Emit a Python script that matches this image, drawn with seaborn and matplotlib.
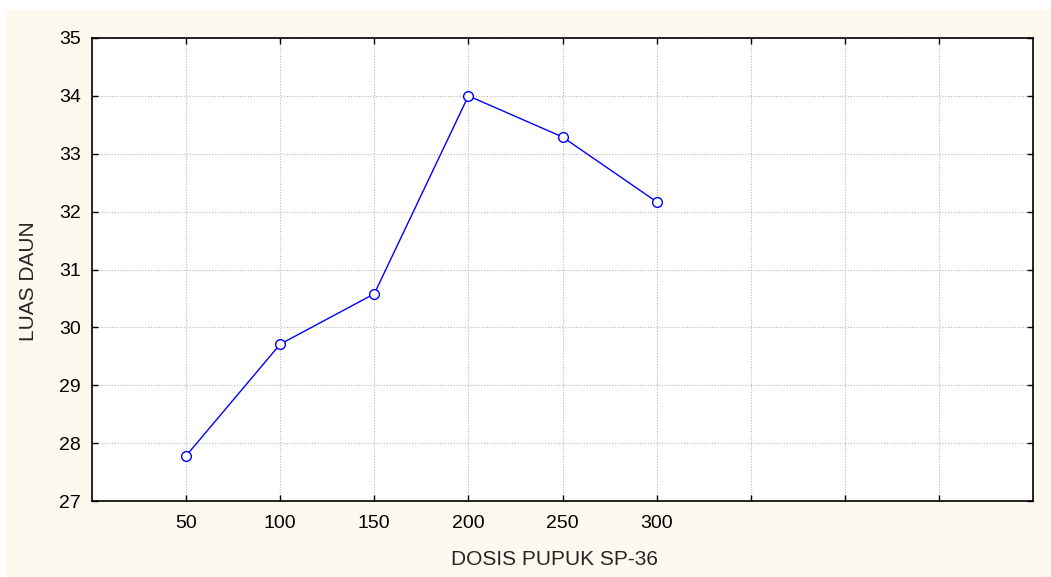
import matplotlib
matplotlib.use("Agg")
import matplotlib.pyplot as plt
import matplotlib.patches as patches
import pandas as pd
import seaborn as sns

# data
dosis = [50, 100, 150, 200, 250, 300]
luas_daun = [27.78, 29.71, 30.58, 34.0, 33.29, 32.17]

# extra empty slots on the x axis (gridlines only)
grid_x = [50, 100, 150, 200, 250, 300, 350, 400, 450]
tick_labels = ["50", "100", "150", "200", "250", "300", "", "", ""]
y_ticks = [27, 28, 29, 30, 31, 32, 33, 34, 35]

df = pd.DataFrame({"dosis": dosis, "luas": luas_daun})

sns.set_style("white")
plt.rcParams["font.family"] = ["Liberation Sans", "DejaVu Sans"]

cream = "#fef9ef"
fig = plt.figure(figsize=(10.51, 5.77), dpi=100, facecolor="white")
# cream panel behind the plot, leaving a thin white strip top/left
fig.patches.append(
    patches.Rectangle(
        (5 / 1051, 0), 1, 1 - 10 / 577, transform=fig.transFigure,
        facecolor=cream, edgecolor="none", zorder=-10,
    )
)

ax = fig.add_axes([92 / 1051, 1 - 501 / 577, (1033 - 92) / 1051, (501 - 38) / 577])
ax.set_facecolor("white")

sns.lineplot(
    data=df, x="dosis", y="luas", ax=ax, color="#0000ff", linewidth=1.0,
    marker="o", markersize=7, markerfacecolor="white",
    markeredgecolor="#0000ff", markeredgewidth=1.0,
)

ax.set_xlim(0, 500)
ax.set_ylim(27, 35)
ax.set_xticks(grid_x)
ax.set_xticklabels(tick_labels)
ax.set_yticks(y_ticks)

ax.grid(True, linestyle=(0, (1, 1.5)), color="#b8b8b8", linewidth=0.8)
ax.set_axisbelow(True)

for side in ["left", "right", "top", "bottom"]:
    ax.spines[side].set_visible(True)
    ax.spines[side].set_color("black")
    ax.spines[side].set_linewidth(1.2)

ax.tick_params(
    axis="both", direction="in", length=4, width=1, colors="black",
    labelsize=14, top=True, right=True, bottom=True, left=True, pad=8,
)
ax.tick_params(axis="x", pad=10)

ax.set_xlabel("DOSIS PUPUK SP-36", fontsize=15)
ax.set_ylabel("LUAS DAUN", fontsize=15)
ax.xaxis.set_label_coords(0.491, -0.105)
ax.yaxis.set_label_coords(-0.057, 0.475)

fig.savefig("out.png", dpi=100, facecolor=fig.get_facecolor())
